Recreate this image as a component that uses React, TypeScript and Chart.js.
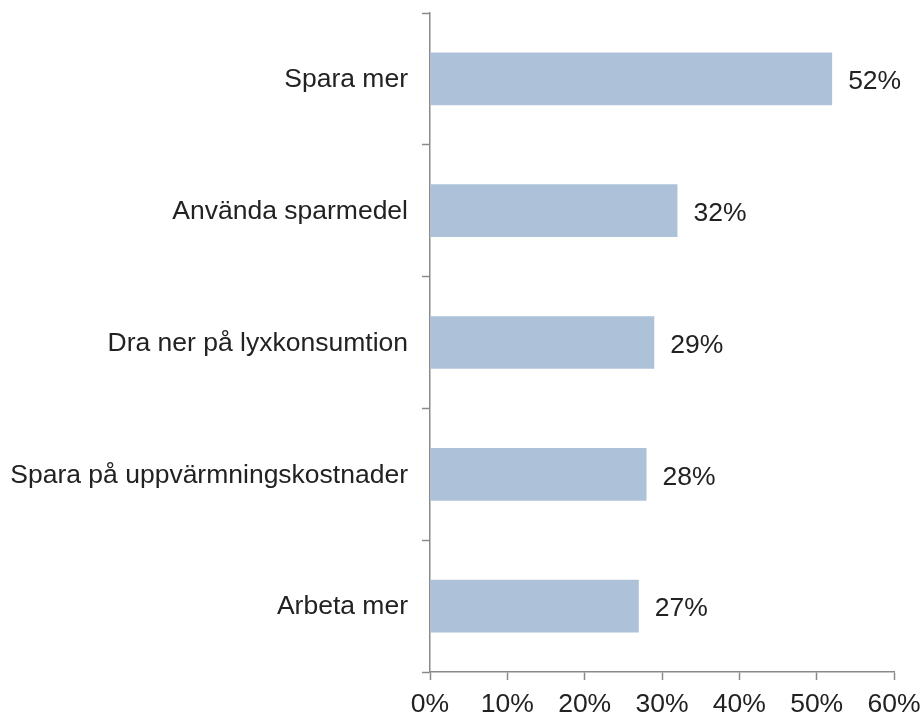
import React, { useEffect, useRef } from "react";
import { Chart, registerables } from "chart.js";

Chart.register(...registerables);

const categories = [
  "Spara mer",
  "Använda sparmedel",
  "Dra ner på lyxkonsumtion",
  "Spara på uppvärmningskostnader",
  "Arbeta mer",
];
const values = [52, 32, 29, 28, 27];
const xTicks = [0, 10, 20, 30, 40, 50, 60];

const FONT = "'Liberation Sans', Arial, sans-serif";
const FONT_SIZE = 26.5;
const AXIS_COLOR = "#8a8a8a";

const valueLabels = {
  id: "valueLabels",
  afterDatasetsDraw(chart: any) {
    const ctx = chart.ctx;
    const meta = chart.getDatasetMeta(0);
    ctx.save();
    ctx.font = `${FONT_SIZE}px ${FONT}`;
    ctx.fillStyle = "#222222";
    ctx.textAlign = "left";
    ctx.textBaseline = "middle";
    meta.data.forEach((bar: any, i: number) => {
      ctx.fillText(`${values[i]}%`, bar.x + 16, bar.y + 3);
    });
    ctx.restore();
  },
};

export default function App() {
  const ref = useRef<HTMLCanvasElement | null>(null);
  useEffect(() => {
    if (!ref.current) return;
    const chart = new Chart(ref.current, {
      type: "bar",
      data: {
        labels: categories,
        datasets: [
          {
            data: values,
            backgroundColor: "#adc2d8",
            borderWidth: 0,
            barPercentage: 0.4,
            categoryPercentage: 1,
          },
        ],
      },
      options: {
        indexAxis: "y",
        animation: false,
        responsive: false,
        maintainAspectRatio: false,
        layout: { padding: { top: 13, right: 29, left: 0, bottom: 0 } },
        plugins: {
          legend: { display: false },
          tooltip: { enabled: false },
        },
        scales: {
          x: {
            min: 0,
            max: 60,
            afterBuildTicks(scale: any) {
              scale.ticks = xTicks.map((v) => ({ value: v }));
            },
            afterFit(scale: any) {
              scale.height = 43;
              scale.paddingLeft = 0;
              scale.paddingRight = 0;
            },
            ticks: {
              callback: (v: any) => `${v}%`,
              color: "#222222",
              font: { family: FONT, size: FONT_SIZE },
              padding: 9,
              maxRotation: 0,
            },
            grid: {
              drawOnChartArea: false,
              drawTicks: true,
              tickLength: 8,
              tickWidth: 1.5,
              tickColor: AXIS_COLOR,
            },
            border: { display: true, color: AXIS_COLOR, width: 1.5 },
          },
          y: {
            afterFit(scale: any) {
              scale.width = 430;
              scale.paddingTop = 0;
              scale.paddingBottom = 0;
            },
            ticks: {
              color: "#222222",
              font: { family: FONT, size: FONT_SIZE },
              padding: 14,
              labelOffset: 1,
            },
            grid: {
              offset: true,
              drawOnChartArea: false,
              drawTicks: true,
              tickLength: 8,
              tickWidth: 1.5,
              tickColor: AXIS_COLOR,
            },
            border: { display: true, color: AXIS_COLOR, width: 1.5 },
          },
        },
      },
      plugins: [valueLabels],
    });
    return () => chart.destroy();
  }, []);
  return (
    <div style={{ position: "absolute", left: 0, top: 0, width: 923, height: 715, background: "#fff" }}>
      <canvas ref={ref} width={923} height={715} style={{ display: "block" }} />
    </div>
  );
}
